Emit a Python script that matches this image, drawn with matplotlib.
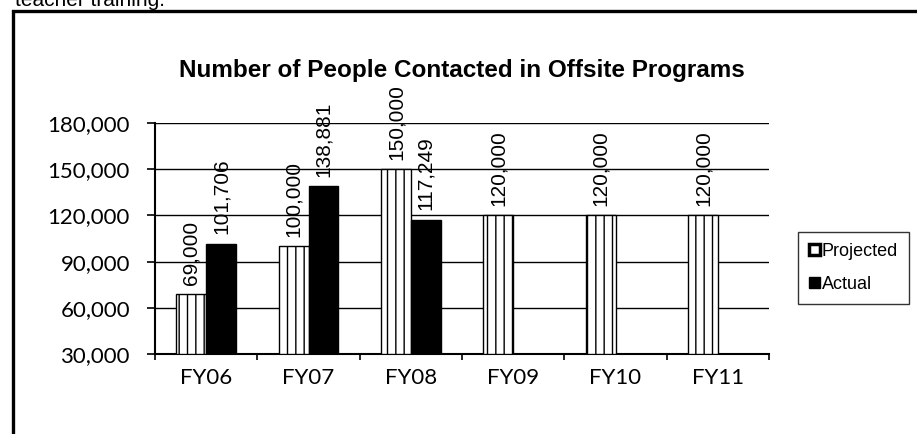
import matplotlib
matplotlib.use("Agg")
import matplotlib.pyplot as plt
from matplotlib.patches import Rectangle, Patch
import numpy as np

categories = ["FY06", "FY07", "FY08", "FY09", "FY10", "FY11"]
projected = [69000, 100000, 150000, 120000, 120000, 120000]
actual = [101706, 138881, 117249, None, None, None]
yticks = [30000, 60000, 90000, 120000, 150000, 180000]
title = "Number of People Contacted in Offsite Programs"

W, H = 917, 434
fig = plt.figure(figsize=(W / 100, H / 100), dpi=100)
fig.patch.set_facecolor("white")

plt.rcParams["hatch.linewidth"] = 1.0

# outer chart border (only top/left visible in the crop)
fig.add_artist(Rectangle((13 / W, -0.2), 1.2, 1.2 - 11 / H, transform=fig.transFigure,
                         fill=False, edgecolor="black", lw=2.4))
fig.text(15 / W, 1 - 6 / H, "teacher training.", family="Liberation Sans", fontsize=15,
         va="baseline", ha="left")

ax = fig.add_axes([155 / W, 1 - 354 / H, (769 - 155) / W, (354 - 123) / H])
x = np.arange(len(categories))
bw = 0.29
base = yticks[0]
label_off = 6000

for i, v in enumerate(projected):
    ax.bar(x[i] - bw / 2, v - base, bw, bottom=base, facecolor="white", edgecolor="black",
           hatch="||", lw=1.0, zorder=3)
    ax.text(x[i] - bw / 2, v + label_off, f"{v:,}", rotation=90, ha="center", va="bottom",
            family="Liberation Sans", fontsize=15, zorder=4)
for i, v in enumerate(actual):
    if v is None:
        continue
    ax.bar(x[i] + bw / 2, v - base, bw, bottom=base, facecolor="black", edgecolor="black",
           lw=1.0, zorder=3)
    ax.text(x[i] + bw / 2, v + label_off, f"{v:,}", rotation=90, ha="center", va="bottom",
            family="Liberation Sans", fontsize=15, zorder=4)

ax.set_xlim(-0.5, len(categories) - 0.5)
ax.set_ylim(yticks[0], yticks[-1])
ax.set_yticks(yticks)
ax.set_yticklabels([f"{t:,}" for t in yticks], family="Lato", fontsize=16)
ax.yaxis.grid(True, color="black", lw=1.0, zorder=1)
ax.set_axisbelow(True)

ax.set_xticks(np.arange(len(categories) + 1) - 0.5)
ax.set_xticklabels([])
ax.set_xticks(x, minor=True)
ax.set_xticklabels(categories, minor=True, family="Lato", fontsize=16)
ax.tick_params(axis="x", which="major", length=4, width=1.2, direction="out")
ax.tick_params(axis="x", which="minor", length=0, pad=10)
ax.tick_params(axis="y", length=6, width=1.2, direction="out", pad=12)

for s in ["top", "right"]:
    ax.spines[s].set_visible(False)
for s in ["left", "bottom"]:
    ax.spines[s].set_linewidth(1.5)

ax.set_title(title, family="Liberation Sans", fontweight="bold", fontsize=17.5, pad=33)

handles = [Patch(facecolor="white", edgecolor="black", lw=2.5, label="Projected"),
           Patch(facecolor="black", edgecolor="black", label="Actual")]
leg = fig.legend(handles=handles, loc="upper left", bbox_to_anchor=(798 / W, 1 - 232 / H),
                 prop={"family": "Liberation Sans", "size": 13}, frameon=True,
                 fancybox=False, edgecolor="black", handlelength=0.6, handleheight=0.6,
                 handletextpad=0.1, labelspacing=0.9, borderpad=0.6, borderaxespad=0)
leg.get_frame().set_linewidth(1.0)

fig.savefig("out.png", dpi=100, facecolor="white")
